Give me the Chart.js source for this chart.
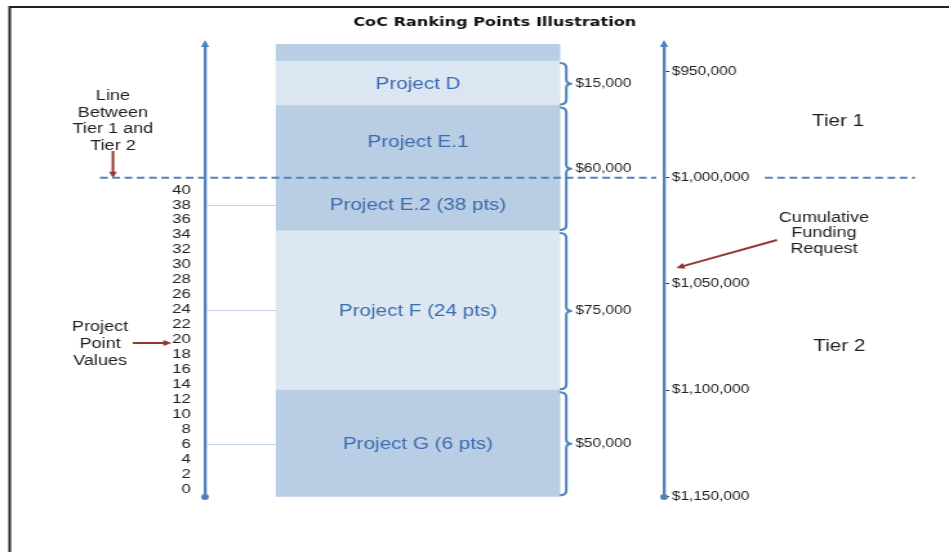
<!DOCTYPE html>
<html>
<head>
<meta charset="utf-8">
<script src="https://cdn.jsdelivr.net/npm/chart.js@4.4.1/dist/chart.umd.min.js"></script>
<style>
  html, body { margin: 0; padding: 0; background: #fff; overflow: hidden; }
  #wrap { width: 736px; height: 552px; transform: scaleX(1.2894); transform-origin: 0 0; }
  #coc { display: block; }
</style>
</head>
<body>
<div id="wrap"><canvas id="coc" width="736" height="552"></canvas></div>
<script>
// the slide is a 4:3 picture stretched wide, so draw it at 736px and let css widen it
const projectNames = ['', 'Project D', 'Project E.1', 'Project E.2 (38 pts)', 'Project F (24 pts)', 'Project G (6 pts)']
const segmentBounds = [937000, 945000, 966000, 1000000, 1025000, 1100000, 1150000]
const segmentColors = ['#b9cde5', '#dce6f2', '#b9cde5', '#b9cde5', '#dde7f2', '#b9cde5']
const projectPoints = [38, 24, 6]
const requestLabels = ['$15,000', '$60,000', '$75,000', '$50,000']
const requestGroups = [[1, 1], [2, 3], [4, 4], [5, 5]]
const fundingTicks = [950000, 1000000, 1050000, 1100000, 1150000]
const pointTicks = [0, 2, 4, 6, 8, 10, 12, 14, 16, 18, 20, 22, 24, 26, 28, 30, 32, 34, 36, 38, 40]
const tierLine = 1000000

const blue = '#4f81bd'
const red = '#953735'
const ink = '#1e1e1e'
const barX = 46.4

Chart.defaults.font.family = '"Liberation Sans", Arial, sans-serif'

function arrow(ctx, x1, y1, x2, y2) {
  const a = Math.atan2(y2 - y1, x2 - x1)
  const len = 7
  ctx.strokeStyle = red
  ctx.fillStyle = red
  ctx.lineWidth = 2
  ctx.beginPath()
  ctx.moveTo(x1, y1)
  ctx.lineTo(x2 - Math.cos(a) * len * 0.8, y2 - Math.sin(a) * len * 0.8)
  ctx.stroke()
  ctx.beginPath()
  ctx.moveTo(x2, y2)
  ctx.lineTo(x2 - len * Math.cos(a - 0.45), y2 - len * Math.sin(a - 0.45))
  ctx.lineTo(x2 - len * Math.cos(a + 0.45), y2 - len * Math.sin(a + 0.45))
  ctx.closePath()
  ctx.fill()
}

function textLines(ctx, arr, x, y, gap) {
  arr.forEach((t, i) => ctx.fillText(t, x, y + i * gap))
}

function brace(ctx, x, top, bottom) {
  const mid = (top + bottom) / 2
  const xv = x + 5
  const tip = x + 9.5
  ctx.beginPath()
  ctx.moveTo(x, top)
  ctx.quadraticCurveTo(xv, top, xv, top + 5)
  ctx.lineTo(xv, mid - 4)
  ctx.quadraticCurveTo(xv, mid, tip, mid)
  ctx.quadraticCurveTo(xv, mid, xv, mid + 4)
  ctx.lineTo(xv, bottom - 5)
  ctx.quadraticCurveTo(xv, bottom, x, bottom)
  ctx.stroke()
}

const decor = {
  id: 'decor',
  beforeDraw(chart) {
    const ctx = chart.ctx
    ctx.save()
    ctx.fillStyle = '#fff'
    ctx.fillRect(0, 0, chart.width, chart.height)
    ctx.strokeStyle = '#222'
    ctx.lineWidth = 2
    ctx.strokeRect(7.5, 7, 900, 900)
    ctx.restore()
  },
  afterDatasetsDraw(chart) {
    const ctx = chart.ctx
    const area = chart.chartArea
    const y = chart.scales.y
    const yPts = chart.scales.yPts
    const bars = chart.getDatasetMeta(0).data
    const barLeft = bars[0].x - bars[0].width / 2
    const barRight = bars[0].x + bars[0].width / 2
    ctx.save()

    // point connectors
    ctx.strokeStyle = '#c3d1e4'
    ctx.lineWidth = 1
    projectPoints.forEach(p => {
      const py = Math.round(yPts.getPixelForValue(p)) + 0.5
      ctx.beginPath()
      ctx.moveTo(area.left + 1, py)
      ctx.lineTo(barLeft, py)
      ctx.stroke()
    })

    // project names in the bar
    ctx.fillStyle = '#3b6cae'
    ctx.font = '16px "Liberation Sans", Arial, sans-serif'
    ctx.textAlign = 'center'
    ctx.textBaseline = 'middle'
    bars.forEach((b, i) => {
      if (projectNames[i]) ctx.fillText(projectNames[i], b.x, (b.y + b.base) / 2 + 1)
    })

    // braces and request amounts
    ctx.strokeStyle = blue
    ctx.lineWidth = 2
    ctx.fillStyle = ink
    ctx.font = '12px "Liberation Sans", Arial, sans-serif'
    ctx.textAlign = 'left'
    requestGroups.forEach((g, i) => {
      const a = bars[g[0]], b = bars[g[1]]
      const top = Math.min(a.y, a.base) + 2
      const bottom = Math.max(b.y, b.base) - 1
      brace(ctx, barRight, top, bottom)
      ctx.fillText(requestLabels[i], barRight + 12, (top + bottom) / 2)
    })

    // tier line
    const ty = y.getPixelForValue(tierLine)
    ctx.strokeStyle = blue
    ctx.lineWidth = 2
    ctx.setLineDash([6, 3.5])
    ctx.beginPath()
    ctx.moveTo(77.6, ty)
    ctx.lineTo(area.right - 6, ty)
    ctx.moveTo(593.3, ty)
    ctx.lineTo(709.6, ty)
    ctx.stroke()
    ctx.setLineDash([])

    // axis arrow tops and dot ends
    ctx.fillStyle = blue
    ;[area.left, area.right].forEach(ax => {
      ctx.beginPath()
      ctx.moveTo(ax, 40)
      ctx.lineTo(ax - 3.2, 47)
      ctx.lineTo(ax + 3.2, 47)
      ctx.closePath()
      ctx.fill()
      ctx.beginPath()
      ctx.arc(ax, area.bottom, 3, 0, Math.PI * 2)
      ctx.fill()
    })

    // side notes
    ctx.fillStyle = ink
    ctx.textAlign = 'center'
    ctx.font = '14px "Liberation Sans", Arial, sans-serif'
    textLines(ctx, ['Line', 'Between', 'Tier 1 and', 'Tier 2'], 87.6, 96, 16.7)
    textLines(ctx, ['Project', 'Point', 'Values'], 77.6, 327, 17)
    textLines(ctx, ['Cumulative', 'Funding', 'Request'], 639, 218, 15.5)
    ctx.font = '16px "Liberation Sans", Arial, sans-serif'
    ctx.fillText('Tier 1', 650, 122)
    ctx.fillText('Tier 2', 651, 347)

    arrow(ctx, 87.6, 151, 87.6, 178)
    arrow(ctx, 103, 343, 133, 343)
    arrow(ctx, 602.6, 240, 524.5, 268)

    // title
    ctx.font = 'bold 12.5px "DejaVu Sans", sans-serif'
    ctx.fillStyle = '#111'
    ctx.fillText('CoC Ranking Points Illustration', 383.7, 23)
    ctx.restore()
  }
}

new Chart(document.getElementById('coc'), {
  type: 'bar',
  data: {
    datasets: [
      {
        label: 'Cumulative funding',
        xAxisID: 'x',
        yAxisID: 'y',
        data: projectNames.map((n, i) => ({ x: barX, y: [segmentBounds[i], segmentBounds[i + 1]] })),
        backgroundColor: segmentColors,
        borderWidth: 0,
        barThickness: 220,
        maxBarThickness: 220
      }
    ]
  },
  options: {
    responsive: false,
    animation: false,
    devicePixelRatio: 1,
    events: [],
    layout: { padding: { top: 44, bottom: 55, left: 0, right: 0 } },
    plugins: { legend: { display: false }, tooltip: { enabled: false }, title: { display: false } },
    scales: {
      x: { type: 'linear', min: 0, max: 100, offset: false, display: false },
      yPts: {
        position: 'left',
        min: -1.07,
        max: 59.53,
        afterBuildTicks: s => { s.ticks = pointTicks.map(v => ({ value: v })) },
        afterFit: s => { s.width = 159 },
        grid: { display: false, drawTicks: false },
        border: { color: blue, width: 2.3 },
        ticks: { autoSkip: false, padding: 11, color: '#222', font: { size: 13 } }
      },
      y: {
        position: 'right',
        reverse: true,
        min: 937000,
        max: 1150300,
        afterBuildTicks: s => { s.ticks = fundingTicks.map(v => ({ value: v })) },
        afterFit: s => { s.width = 221 },
        grid: { drawOnChartArea: false, drawTicks: true, tickLength: 4, color: '#333', lineWidth: 1 },
        border: { color: blue, width: 2.3 },
        ticks: {
          autoSkip: false,
          padding: 2,
          color: '#222',
          font: { size: 12 },
          callback: v => '$' + v.toLocaleString('en-US')
        }
      }
    }
  },
  plugins: [decor]
})
</script>
</body>
</html>
